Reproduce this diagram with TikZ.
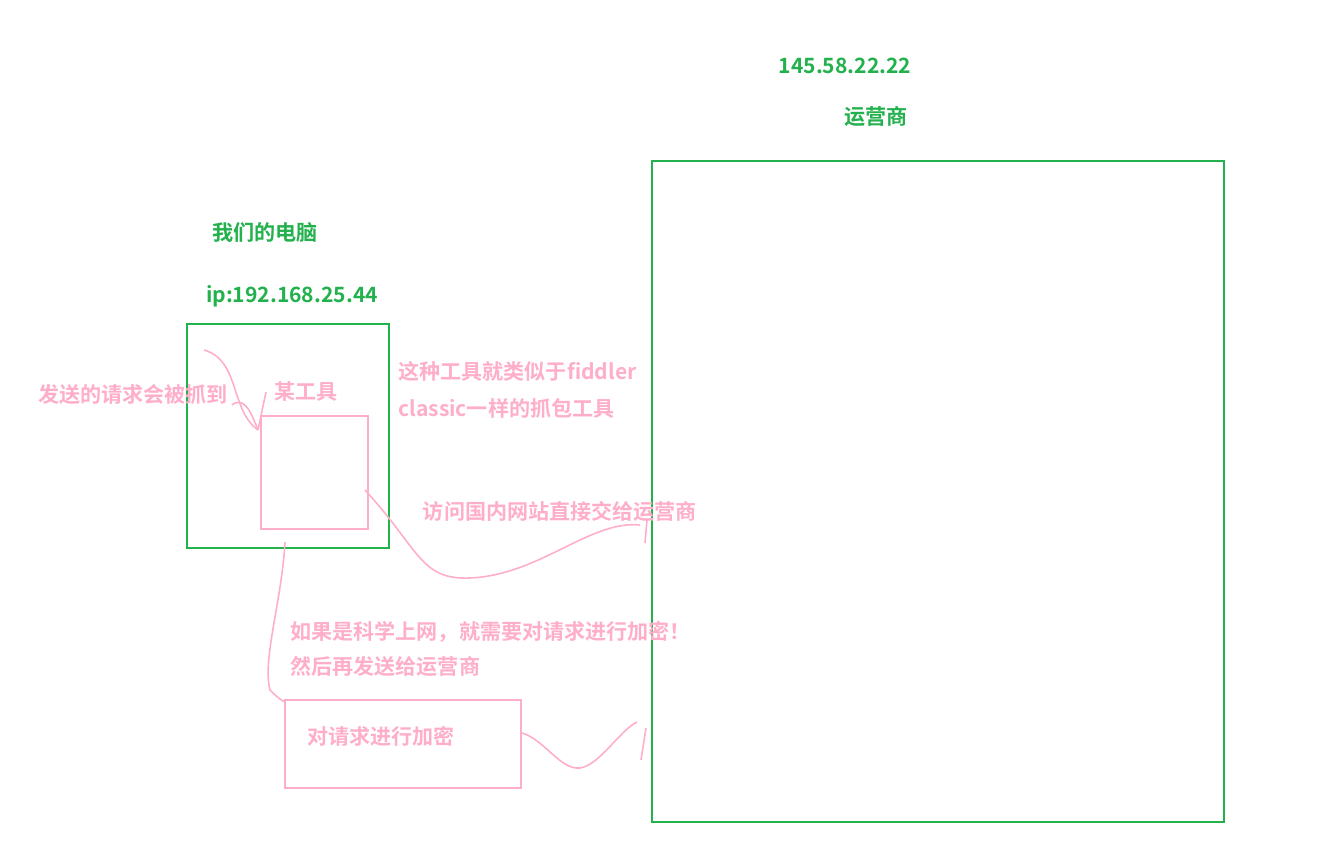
\documentclass[tikz,border=0pt]{standalone}
\usepackage{fontspec}
\setmainfont{Noto Sans CJK SC}[BoldFont={* Bold}]
\definecolor{boxgreen}{RGB}{34,177,76}
\definecolor{inkpink}{RGB}{255,174,201}
\begin{document}
\begin{tikzpicture}[x=0.02cm, y=-0.02cm,
                    greenbox/.style={draw=boxgreen, line width=1.3pt},
                    pinkbox/.style={draw=inkpink, line width=1.3pt},
                    greentext/.style={text=boxgreen, font=\bfseries\fontsize{12}{14}\selectfont, inner sep=0},
                    pinktext/.style={text=inkpink, font=\bfseries\fontsize{12}{14}\selectfont, inner sep=0},
                    stroke/.style={inkpink, line width=0.9pt}]
                \useasboundingbox (0,0) rectangle (1323,864);

                \node (isp) [greenbox, minimum width=572*0.02cm, minimum height=661*0.02cm, anchor=north west] at (651,160) {};
                \node (ipisp) [greentext] at (845,66) {145.58.22.22};
                \node (ispname) [greentext] at (876,117) {运营商};

                \node (pc) [greenbox, minimum width=202*0.02cm, minimum height=224*0.02cm, anchor=north west] at (186,323) {};
                \node (pcname) [greentext] at (265,233) {我们的电脑};
                \node (ippc) [greentext] at (292,296) {ip:192.168.25.44};

                \node (tool) [pinkbox, minimum width=107*0.02cm, minimum height=113*0.02cm, anchor=north west] at (260,415) {};
                \node (toolname) [pinktext] at (306,392) {某工具};
                \node (caught) [pinktext] at (133,394) {发送的请求会被抓到};
                \node (like1) [pinktext, anchor=west] at (398,371) {这种工具就类似于fiddler};
                \node (like2) [pinktext, anchor=west] at (398,408) {classic一样的抓包工具};

                \node (enc) [pinkbox, minimum width=236*0.02cm, minimum height=88*0.02cm, anchor=north west] at (284,699) {};
                \node (encname) [pinktext] at (381,736) {对请求进行加密};
                \node (vpn1) [pinktext, anchor=west] at (290,632) {如果是科学上网，就需要对请求进行加密！};
                \node (vpn2) [pinktext, anchor=west] at (290,667) {然后再发送给运营商};
                \node (direct) [pinktext] at (560,511) {访问国内网站直接交给运营商};

                % hand-drawn strokes
                \coordinate (s1) at (204,350);
                \draw [stroke] (s1) .. controls (240,360) and (230,410) .. (258,430);
                \draw [stroke] (258,430) -- (266,392);
                \draw [stroke] (232,405) .. controls (245,395) and (252,415) .. (258,430);

                \draw [stroke] (365,490) .. controls (420,550) and (420,580) .. (470,578)
                               .. controls (540,575) and (590,520) .. (640,525);
                \draw [stroke] (647,520) -- (645,543);

                \draw [stroke] (285,542) .. controls (282,600) and (262,660) .. (270,690)
                               .. controls (275,695) and (280,700) .. (285,702);

                \draw [stroke] (522,733) .. controls (545,740) and (560,770) .. (580,768)
                               .. controls (600,765) and (620,730) .. (637,722);
                \draw [stroke] (646,728) -- (641,760);
            \end{tikzpicture}
\end{document}
